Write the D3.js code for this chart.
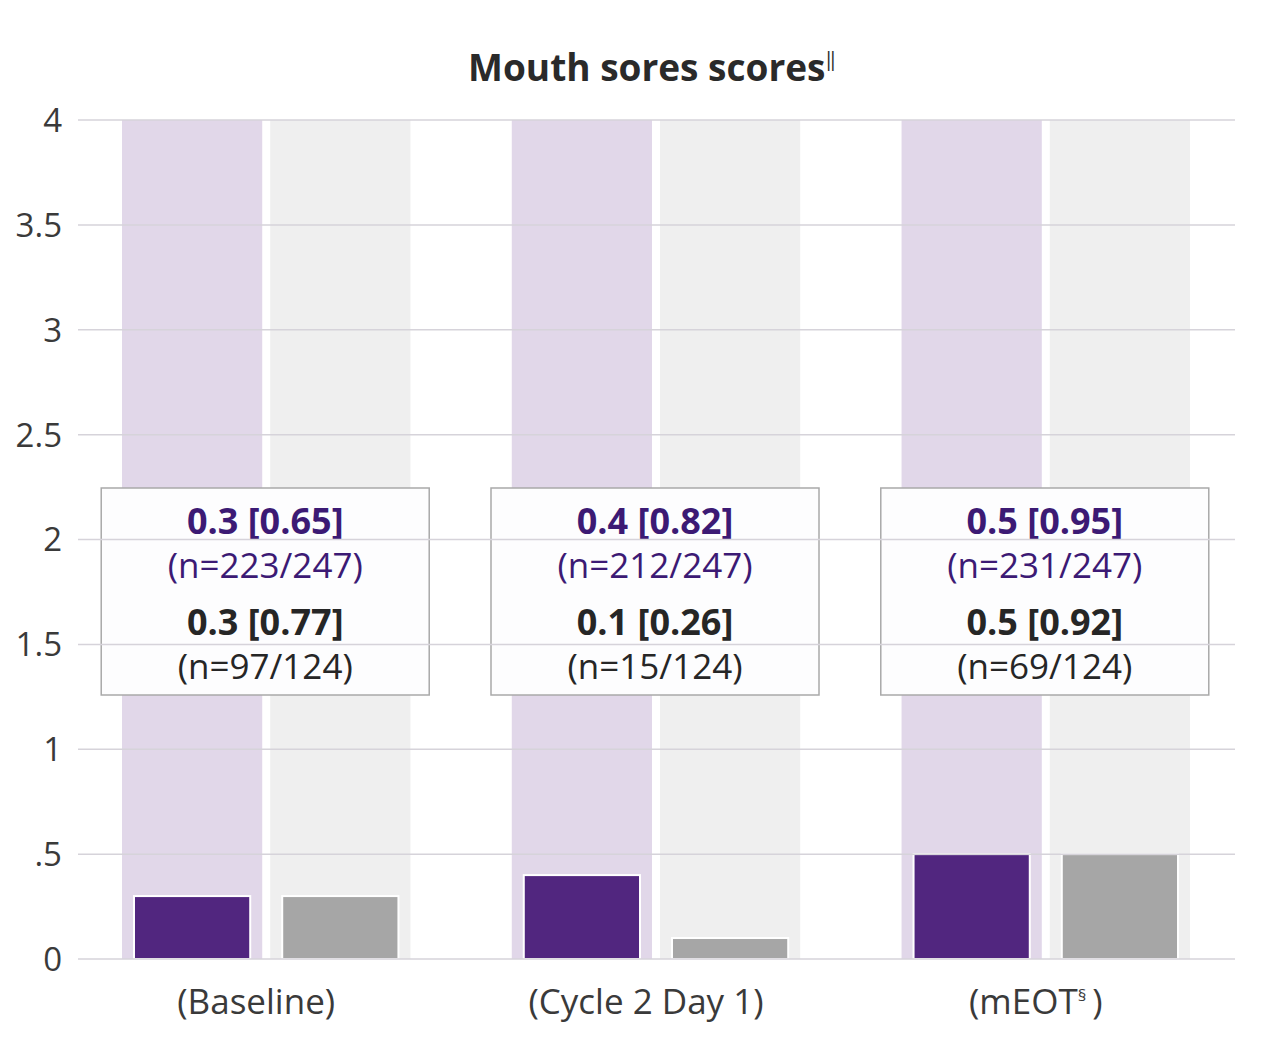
<!DOCTYPE html>
<html>
<head>
<meta charset="utf-8">
<script src="https://cdn.jsdelivr.net/npm/d3@7"></script>
<style>
  body { margin: 0; background: #fff; }
  svg { display: block; font-family: "Open Sans", "Noto Sans", sans-serif; }
</style>
</head>
<body>
<svg id="chart" width="1280" height="1062"></svg>
<script>
// Chart data
const categories = ['Baseline', 'Cycle 2 Day 1', 'mEOT'];
const purpleMeans = [0.3, 0.4, 0.5];
const purpleSD = [0.65, 0.82, 0.95];
const purpleN = ['223/247', '212/247', '231/247'];
const greyMeans = [0.3, 0.1, 0.5];
const greySD = [0.77, 0.26, 0.92];
const greyN = ['97/124', '15/124', '69/124'];
const yTicks = [0, 0.5, 1, 1.5, 2, 2.5, 3, 3.5, 4];
const yTickLabels = ['0', '.5', '1', '1.5', '2', '2.5', '3', '3.5', '4'];
const yMax = 4;

const svg = d3.select('#chart');

const y = d3.scaleLinear().domain([0, yMax]).range([959, 120]);

const x = d3.scaleBand()
  .domain(categories)
  .range([122, 1190])
  .paddingInner(0.26)
  .paddingOuter(0);

const sub = d3.scaleBand()
  .domain(['purple', 'grey'])
  .range([0, x.bandwidth()])
  .paddingInner(0.054);

const inset = 12;

// Title
const title = svg.append('text')
  .attr('x', 652)
  .attr('y', 81)
  .attr('text-anchor', 'middle')
  .attr('font-size', 37)
  .attr('font-weight', 700)
  .attr('fill', '#2a2a2a')
  .text('Mouth sores scores');
title.append('tspan')
  .attr('font-size', 19)
  .attr('font-weight', 400)
  .attr('dy', -15)
  .text('\u2016');

// Background columns
const groups = svg.append('g').selectAll('g')
  .data(categories)
  .join('g')
  .attr('transform', d => `translate(${x(d)},0)`);

groups.append('rect')
  .attr('x', sub('purple'))
  .attr('y', y(yMax))
  .attr('width', sub.bandwidth())
  .attr('height', y(0) - y(yMax))
  .attr('fill', '#e1d7e9');

groups.append('rect')
  .attr('x', sub('grey'))
  .attr('y', y(yMax))
  .attr('width', sub.bandwidth())
  .attr('height', y(0) - y(yMax))
  .attr('fill', '#efefef');

// Gridlines and y tick labels
const grid = svg.append('g');
grid.selectAll('line')
  .data(yTicks)
  .join('line')
  .attr('x1', 78)
  .attr('x2', 1235)
  .attr('y1', d => y(d))
  .attr('y2', d => y(d))
  .attr('stroke', '#d6d3da')
  .attr('stroke-width', 1.5);

grid.selectAll('text')
  .data(yTicks)
  .join('text')
  .attr('x', 62)
  .attr('y', d => y(d))
  .attr('dy', '0.36em')
  .attr('text-anchor', 'end')
  .attr('font-size', 33)
  .attr('fill', '#3a3a3a')
  .text((d, i) => yTickLabels[i]);

// Foreground bars
groups.append('rect')
  .attr('x', sub('purple') + inset)
  .attr('y', (d, i) => y(purpleMeans[i]))
  .attr('width', sub.bandwidth() - inset * 2)
  .attr('height', (d, i) => y(0) - y(purpleMeans[i]))
  .attr('fill', '#51267f')
  .attr('stroke', '#fff')
  .attr('stroke-width', 2);

groups.append('rect')
  .attr('x', sub('grey') + inset)
  .attr('y', (d, i) => y(greyMeans[i]))
  .attr('width', sub.bandwidth() - inset * 2)
  .attr('height', (d, i) => y(0) - y(greyMeans[i]))
  .attr('fill', '#a6a6a6')
  .attr('stroke', '#fff')
  .attr('stroke-width', 2);

// Value boxes
const boxW = 328;
const boxTop = 488;
const boxH = 207;
const box = groups.append('g')
  .attr('transform', `translate(${x.bandwidth() / 2 - 1},0)`);

box.append('rect')
  .attr('x', -boxW / 2)
  .attr('y', boxTop)
  .attr('width', boxW)
  .attr('height', boxH)
  .attr('fill', '#fdfdfe')
  .attr('stroke', '#a9a9a9')
  .attr('stroke-width', 1.5);

const lines = [
  { y: 521, bold: true, color: '#3c1a74', text: i => `${purpleMeans[i]} [${purpleSD[i]}]` },
  { y: 565, bold: false, color: '#3c1a74', text: i => `(n=${purpleN[i]})` },
  { y: 622, bold: true, color: '#262626', text: i => `${greyMeans[i]} [${greySD[i]}]` },
  { y: 666, bold: false, color: '#262626', text: i => `(n=${greyN[i]})` }
];

lines.forEach(l => {
  box.append('text')
    .attr('x', 0)
    .attr('y', l.y)
    .attr('dy', '0.36em')
    .attr('text-anchor', 'middle')
    .attr('font-size', l.bold ? 36 : 35)
    .attr('font-weight', l.bold ? 700 : 400)
    .attr('fill', l.color)
    .text((d, i) => l.text(i));
});

// Category labels
const catLabels = groups.append('text')
  .attr('x', x.bandwidth() / 2 - 10)
  .attr('y', 1001)
  .attr('dy', '0.36em')
  .attr('text-anchor', 'middle')
  .attr('font-size', 35)
  .attr('fill', '#3a3a3a');

catLabels.append('tspan').text(d => d === 'mEOT' ? '(mEOT' : `(${d})`);
catLabels.filter(d => d === 'mEOT')
  .append('tspan')
  .attr('font-size', 17)
  .attr('dy', -13)
  .text('§');
catLabels.filter(d => d === 'mEOT')
  .append('tspan')
  .attr('dy', 13)
  .text('\u2009)');
</script>
</body>
</html>
